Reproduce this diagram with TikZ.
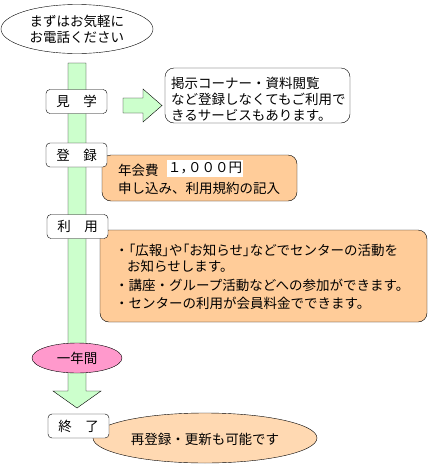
\documentclass[tikz,border=0pt]{standalone}
\usepackage{fontspec}
\setmainfont{Noto Sans CJK JP}
\newfontfamily\propfont[RawFeature=+palt]{Noto Sans CJK JP}
\newcommand{\hb}[1]{{\propfont #1}}
\usetikzlibrary{shapes.geometric}
\definecolor{flowgreen}{HTML}{CCFFCC}
\definecolor{peach}{HTML}{FFCC99}
\definecolor{pinkfill}{HTML}{FF99CC}
\tikzset{
  stepbox/.style={draw, fill=white, rounded corners=4pt, minimum width=61pt, minimum height=24pt, inner sep=0pt},
  notebox/.style={draw, rounded corners=9pt},
  txt/.style={anchor=west, inner sep=0pt},
}
\begin{document}
\begin{tikzpicture}[x=1pt,y=-1pt,font=\fontsize{13.5}{16}\selectfont]
\useasboundingbox (0,0) rectangle (428,464);
% main downward arrow
\draw[fill=flowgreen] (68,63) -- (86,63) -- (86,391) -- (101,391) -- (77,408) -- (53,391) -- (68,391) -- cycle;
% start ellipse
\node[draw, ellipse, fill=white, minimum width=152pt, minimum height=49pt, inner sep=0pt, align=center] (start) at (77,29) {まずはお気軽に\\お電話ください};
% right arrow
\draw[fill=flowgreen] (123,98) -- (143,98) -- (143,89) -- (162,105.5) -- (143,122) -- (143,113) -- (123,113) -- cycle;
% info box
\draw[notebox, fill=white] (165,68) rectangle (350,123);
\node[txt] (info1) at (171,83) {掲示コーナー・資料閲覧};
\node[txt] (info2) at (171,99) {など登録しなくてもご利用で};
\node[txt] (info3) at (171,115) {きるサービスもあります。};
% registration box
\draw[notebox, fill=peach] (102,155) rectangle (297,201);
\node[txt] (fee) at (118,170) {年会費};
\node[fill=white, minimum width=76pt, minimum height=17pt, inner sep=0pt] (price) at (205,168.5) {１\hb{，}０００円};
\node[txt] (apply) at (118,188) {申し込み、利用規約の記入};
% usage box
\draw[notebox, fill=peach] (100,230) rectangle (427,322);
\node[txt] (use1) at (115,250) {・\hb{「}広報\hb{」}や\hb{「}お知らせ\hb{」}などでセンターの活動を};
\node[txt] (use2) at (127,266) {お知らせします。};
\node[txt] (use3) at (115,285) {・講座・グループ活動などへの参加ができます。};
\node[txt] (use4) at (115,303) {・センターの利用が会員料金でできます。};
% year ellipse
\node[draw, ellipse, fill=pinkfill, minimum width=90pt, minimum height=30pt, inner sep=0pt] (year) at (77,358) {一年間};
% end ellipse
\node[draw, ellipse, fill=peach!75!white, minimum width=224pt, minimum height=50pt, inner sep=0pt] (renew) at (205,438) {\hspace*{0pt}};
\node (renewtxt) at (205,439) {再登録・更新も可能です};
% step nodes
\node[stepbox] (visit) at (76.5,101.5) {見　学};
\node[stepbox] (reg) at (76.5,155) {登　録};
\node[stepbox] (use) at (77.5,226.5) {利　用};
\node[stepbox] (fin) at (78.5,426) {終　了};
\end{tikzpicture}
\end{document}
